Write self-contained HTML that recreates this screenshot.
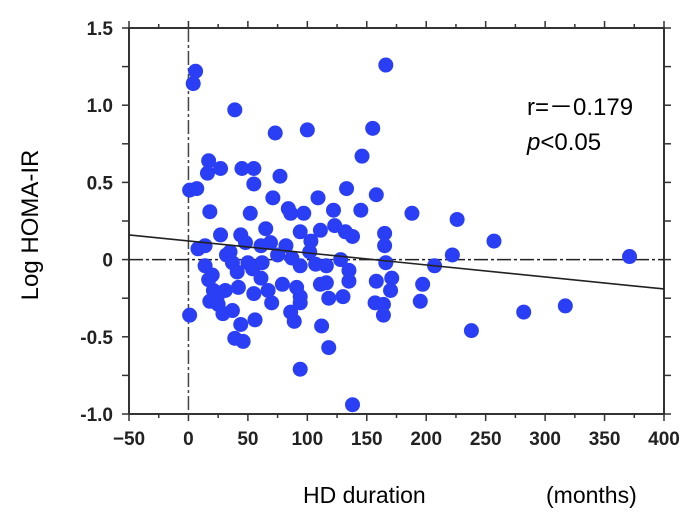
<!DOCTYPE html>
<html><head><meta charset="utf-8"><style>
body{margin:0;background:#fff;}
svg{display:block;font-family:"Liberation Sans",sans-serif;}
</style></head><body>
<svg id="chart" width="695" height="526">
<g id="axes"></g><g id="marks"></g>
<text x="0" y="0" transform="translate(38,225) rotate(-90)" text-anchor="middle" font-size="24">Log HOMA-IR</text>
<text x="303" y="503" font-size="23">HD duration</text>
<text x="546" y="503" font-size="23">(months)</text>
<text x="527" y="115" font-size="24">r=－0.179</text>
<text x="527" y="150" font-size="24"><tspan font-style="italic">p</tspan>&lt;0.05</text>
</svg>
<script>
const xTicks=[-50,0,50,100,150,200,250,300,350,400];
const yTicks=[-1.0,-0.5,0,0.5,1.0,1.5];
const yTickLabels=["-1.0","-0.5","0","0.5","1.0","1.5"];
const durations=[6,4,39,73,100,166,155,146,17,16,27,45,55,55,77,1,7,133,18,52,86,97,109,122,123,71,84,103,27,14,8,44,48,61,69,82,94,111,132,138,158,165,165,188,226,257,222,207,166,371,14,37,54,62,75,87,94,107,116,128,135,17,21,31,61,67,79,91,111,116,135,158,171,170,157,164,164,197,195,130,118,94,94,70,55,42,25,29,37,44,39,46,18,1,56,86,89,112,118,94,138,238,282,317,50,32,41,20,24,35,65,102,145];
const homaLog=[1.22,1.14,0.97,0.82,0.84,1.26,0.85,0.67,0.64,0.56,0.59,0.59,0.59,0.49,0.54,0.45,0.46,0.46,0.31,0.30,0.30,0.30,0.40,0.32,0.22,0.40,0.33,0.12,0.16,0.09,0.07,0.16,0.11,0.09,0.11,0.09,0.18,0.19,0.18,0.15,0.42,0.17,0.09,0.30,0.26,0.12,0.03,-0.04,-0.02,0.02,-0.04,-0.02,-0.06,-0.02,0.03,0.01,-0.04,-0.03,-0.04,0,-0.07,-0.13,-0.2,-0.2,-0.12,-0.2,-0.16,-0.18,-0.16,-0.15,-0.14,-0.14,-0.12,-0.2,-0.28,-0.29,-0.36,-0.16,-0.27,-0.24,-0.25,-0.24,-0.28,-0.28,-0.22,-0.18,-0.29,-0.35,-0.33,-0.42,-0.51,-0.53,-0.27,-0.36,-0.39,-0.34,-0.4,-0.43,-0.57,-0.71,-0.94,-0.46,-0.34,-0.3,-0.02,0.03,-0.08,-0.1,-0.25,0.05,0.2,0.05,0.32];
const regression=[0.121,-0.000778];
const L=129,R=664,T=28,B=414;
const xs=v=>L+(v+50)/450*(R-L);
const ys=v=>B-(v+1)/2.5*(B-T);
const NS="http://www.w3.org/2000/svg";
function mk(tag,attrs,parent){const e=document.createElementNS(NS,tag);for(const k in attrs)e.setAttribute(k,attrs[k]);parent.appendChild(e);return e;}
const ax=document.getElementById('axes'),mg=document.getElementById('marks');
const frame=mk('rect',{x:L,y:T,width:R-L,height:B-T,fill:'none',stroke:'#333','stroke-width':2},ax);


for(let v=-50;v<=400;v+=25){const x=xs(v),len=v%50===0?7:4;
mk('line',{x1:x,x2:x,y1:B,y2:B+len,stroke:'#333','stroke-width':1.5},ax);
mk('line',{x1:x,x2:x,y1:T,y2:T-len,stroke:'#333','stroke-width':1.5},ax);}
xTicks.forEach(v=>{const t=mk('text',{x:xs(v),y:B+31,'text-anchor':'middle','font-size':19,'font-weight':'bold',fill:'#222'},ax);t.textContent=v===-50?'−50':String(v);

});
for(let v=-1;v<=1.5001;v+=0.25){const y=ys(v);
mk('line',{x1:L,x2:L-7,y1:y,y2:y,stroke:'#333','stroke-width':1.5},ax);
mk('line',{x1:R,x2:R+7,y1:y,y2:y,stroke:'#333','stroke-width':1.5},ax);}
yTicks.forEach((v,i)=>{const t=mk('text',{x:L-16,y:ys(v)+7,'text-anchor':'end','font-size':19,'font-weight':'bold',fill:'#222'},ax);t.textContent=yTickLabels[i];

});
const zx=mk('line',{x1:xs(0),x2:xs(0),y1:T,y2:B,stroke:'#444','stroke-width':1.5,'stroke-dasharray':'14,3,3,3'},ax);


const zy=mk('line',{x1:L,x2:R,y1:ys(0),y2:ys(0),stroke:'#222','stroke-width':1.5,'stroke-dasharray':'14,3,3,3'},ax);


durations.forEach((d,i)=>{const c=mk('circle',{cx:xs(d),cy:ys(homaLog[i]),r:7.5,fill:'#2a3ff5'},mg);

});
const rl=mk('line',{x1:xs(-50),x2:xs(400),y1:ys(regression[0]+regression[1]*-50),y2:ys(regression[0]+regression[1]*400),stroke:'#222','stroke-width':1.6},mg);


</script>
</body></html>
